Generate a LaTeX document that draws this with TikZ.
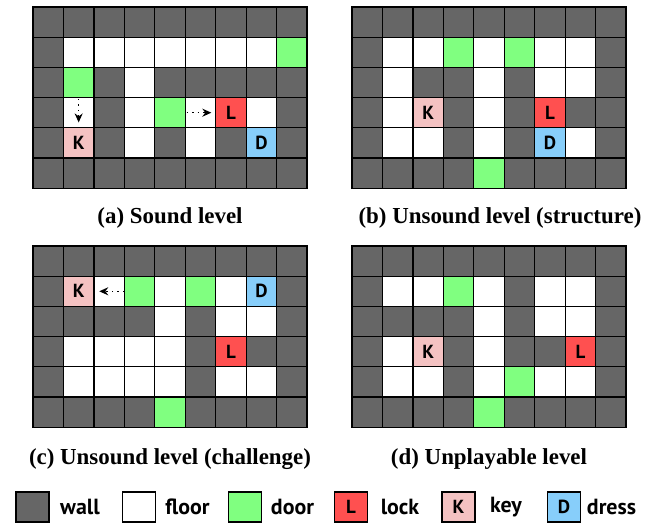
\documentclass[tikz,border=0pt]{standalone}
\usepackage{fontspec}
\setmainfont{Liberation Serif}
\newfontfamily\sfb{PT Sans}
\usetikzlibrary{arrows.meta}

\definecolor{wallc}{HTML}{666666}
\definecolor{doorc}{HTML}{80FF80}
\definecolor{lockc}{HTML}{FF5050}
\definecolor{keyc}{HTML}{F4C2C2}
\definecolor{dressc}{HTML}{87CEFA}

\tikzset{
  cell/.style={draw=black, line width=1.3bp, minimum width=30.45bp, minimum height=30.2bp,
    inner sep=0pt, font=\sfb\bfseries\fontsize{19}{19}\selectfont},
  cW/.style={cell, fill=wallc},
  cF/.style={cell, fill=white},
  cG/.style={cell, fill=doorc},
  cL/.style={cell, fill=lockc},
  cK/.style={cell, fill=keyc},
  cD/.style={cell, fill=dressc},
  captxt/.style={font=\bfseries\fontsize{23}{24}\selectfont},
  legbox/.style={draw=black, line width=1.3bp, minimum width=33bp, minimum height=30bp,
    inner sep=0pt, font=\sfb\bfseries\fontsize{19}{19}\selectfont},
  legtxt/.style={font=\sfb\bfseries\fontsize{22}{22}\selectfont},
  hint/.style={line width=1.5bp, dash pattern=on 1.5bp off 4bp,
    -{Stealth[length=9bp,width=8bp]}}
}
\def\txtW{}\def\txtF{}\def\txtG{}\def\txtL{L}\def\txtK{K}\def\txtD{D}

\newcommand\levelgrid[4]{%
  \foreach \rowlist [count=\rowi from 0] in {#4} {
    \foreach \cc [count=\coli from 0] in \rowlist {
      \node[c\cc] (#1-\rowi-\coli) at ({#2+(\coli+0.5)*30.45},{#3+(\rowi+0.5)*30.2}) {\csname txt\cc\endcsname};
    }
  }%
}

\begin{document}
\begin{tikzpicture}[x=1bp, y=-1bp]
\useasboundingbox (0,0) rectangle (651,527);

% (a) Sound level
\levelgrid{a}{33}{7}{%
  {W,W,W,W,W,W,W,W,W},
  {W,F,F,F,F,F,F,F,G},
  {W,G,W,F,W,W,W,W,W},
  {W,F,W,F,G,F,L,F,W},
  {W,K,W,F,W,F,W,D,W},
  {W,W,W,W,W,W,W,W,W}}
\draw[hint] ([yshift=-2bp]a-3-1.north) -- ([yshift=6bp]a-3-1.south);
\draw[hint] ([xshift=2bp]a-3-5.west) -- ([xshift=-5bp]a-3-5.east);

% (b) Unsound level (structure)
\levelgrid{b}{352}{7}{%
  {W,W,W,W,W,W,W,W,W},
  {W,F,F,G,F,G,F,F,W},
  {W,F,W,W,F,W,F,F,W},
  {W,F,K,W,F,W,L,W,W},
  {W,F,F,W,F,W,D,F,W},
  {W,W,W,W,G,W,W,W,W}}

% (c) Unsound level (challenge)
\levelgrid{c}{33}{246}{%
  {W,W,W,W,W,W,W,W,W},
  {W,K,F,G,F,G,F,D,W},
  {W,W,W,W,F,W,F,F,W},
  {W,F,F,F,F,W,L,W,W},
  {W,F,F,F,F,W,F,F,W},
  {W,W,W,W,G,W,W,W,W}}
\draw[hint] ([xshift=-1bp]c-1-2.east) -- ([xshift=6bp]c-1-2.west);

% (d) Unplayable level
\levelgrid{d}{352}{246}{%
  {W,W,W,W,W,W,W,W,W},
  {W,F,F,G,F,W,F,F,W},
  {W,W,W,W,F,W,F,F,W},
  {W,F,K,W,F,W,W,L,W},
  {W,F,F,W,F,G,F,F,W},
  {W,W,W,W,G,W,W,W,W}}

% captions
\node[captxt] (capa) at (170,218) {(a) Sound level};
\node[captxt] (capb) at (500,218) {(b) Unsound level (structure)};
\node[captxt] (capc) at (170,459) {(c) Unsound level (challenge)};
\node[captxt] (capd) at (489,459) {(d) Unplayable level};

% legend
\node[legbox, fill=wallc]  (lw) at (32.5,507) {};
\node[legtxt] (lwt) at (80,507) {wall};
\node[legbox, fill=white]  (lf) at (139,507) {};
\node[legtxt] (lft) at (187.5,507) {floor};
\node[legbox, fill=doorc]  (lg) at (245,507) {};
\node[legtxt] (lgt) at (292.5,507) {door};
\node[legbox, fill=lockc]  (ll) at (351,507) {L};
\node[legtxt] (llt) at (400,507) {lock};
\node[legbox, fill=keyc]   (lk) at (458.5,507) {K};
\node[legtxt] (lkt) at (506,507) {key};
\node[legbox, fill=dressc] (ld) at (564,507) {D};
\node[legtxt] (ldt) at (611.5,507) {dress};
\end{tikzpicture}
\end{document}
